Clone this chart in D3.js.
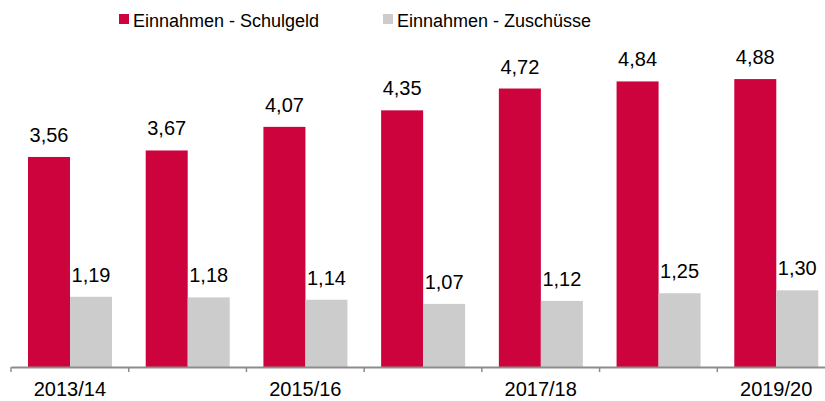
<!DOCTYPE html>
<html>
<head>
<meta charset="utf-8">
<script src="https://cdn.jsdelivr.net/npm/d3@7"></script>
<style>
  body { margin: 0; background: #fff; }
  text { font-family: "Liberation Sans", Arial, sans-serif; fill: #000; }
</style>
</head>
<body>
<div id="chart"></div>
<script>
const years = ["2013/14", "2014/15", "2015/16", "2016/17", "2017/18", "2018/19", "2019/20"]
const schulgeld = [3.56, 3.67, 4.07, 4.35, 4.72, 4.84, 4.88]
const zuschuesse = [1.19, 1.18, 1.14, 1.07, 1.12, 1.25, 1.30]
const seriesNames = ["Einnahmen - Schulgeld", "Einnahmen - Zuschüsse"]
const colors = ["#cc033c", "#cccccc"]

const data = years.map((y, i) => ({ year: y, values: [schulgeld[i], zuschuesse[i]] }))

const W = 825, H = 401
const baseY = 367
const svg = d3.select("#chart").append("svg").attr("width", W).attr("height", H)

// bands run past the right edge, like the original
const x = d3.scaleBand().domain(years).range([11, 835]).padding(0)
const x1 = d3.scaleBand().domain([0, 1]).range([17, 101]).padding(0)
const y = d3.scaleLinear().domain([0, 5]).range([baseY, baseY - 5 * 59])

const groups = svg.selectAll("g.grp").data(data).enter().append("g")
  .attr("class", "grp")
  .attr("transform", d => `translate(${x(d.year)},0)`)

groups.selectAll("rect").data(d => d.values).enter().append("rect")
  .attr("x", (v, i) => x1(i))
  .attr("width", x1.bandwidth())
  .attr("y", v => y(v))
  .attr("height", v => y(0) - y(v))
  .attr("fill", (v, i) => colors[i])

groups.selectAll("text.val").data(d => d.values).enter().append("text")
  .attr("class", "val")
  .attr("x", (v, i) => x1(i) + x1.bandwidth() / 2)
  .attr("y", v => y(v) - 15)
  .attr("text-anchor", "middle")
  .style("font-size", "20px")
  .text(v => v.toFixed(2).replace(".", ","))

// axis
const xAxis = d3.axisBottom(x)
  .tickSize(0).tickSizeOuter(0).tickPadding(15)
  .tickFormat((d, i) => i % 2 === 0 ? d : "")
const ax = svg.append("g").attr("transform", `translate(0,${baseY})`).call(xAxis)
ax.select(".domain").attr("stroke", "#8c8c8c").attr("stroke-width", 2)
ax.selectAll("text").style("font-size", "20px").attr("fill", "#000")
  .style("font-family", "'Liberation Sans', Arial, sans-serif")
ax.selectAll("line.bound").data(years).enter().append("line")
  .attr("class", "bound")
  .attr("x1", d => x(d)).attr("x2", d => x(d))
  .attr("y1", 0).attr("y2", 5)
  .attr("stroke", "#8c8c8c").attr("stroke-width", 1.5)

// legend
const legendX = [119, 383]
const legend = svg.selectAll("g.leg").data(seriesNames).enter().append("g")
  .attr("class", "leg")
  .attr("transform", (d, i) => `translate(${legendX[i]},0)`)
legend.append("rect").attr("x", 0).attr("y", 14).attr("width", 10).attr("height", 10)
  .attr("fill", (d, i) => colors[i])
legend.append("text").attr("x", 14).attr("y", 27).style("font-size", "18px").text(d => d)
</script>
</body>
</html>
